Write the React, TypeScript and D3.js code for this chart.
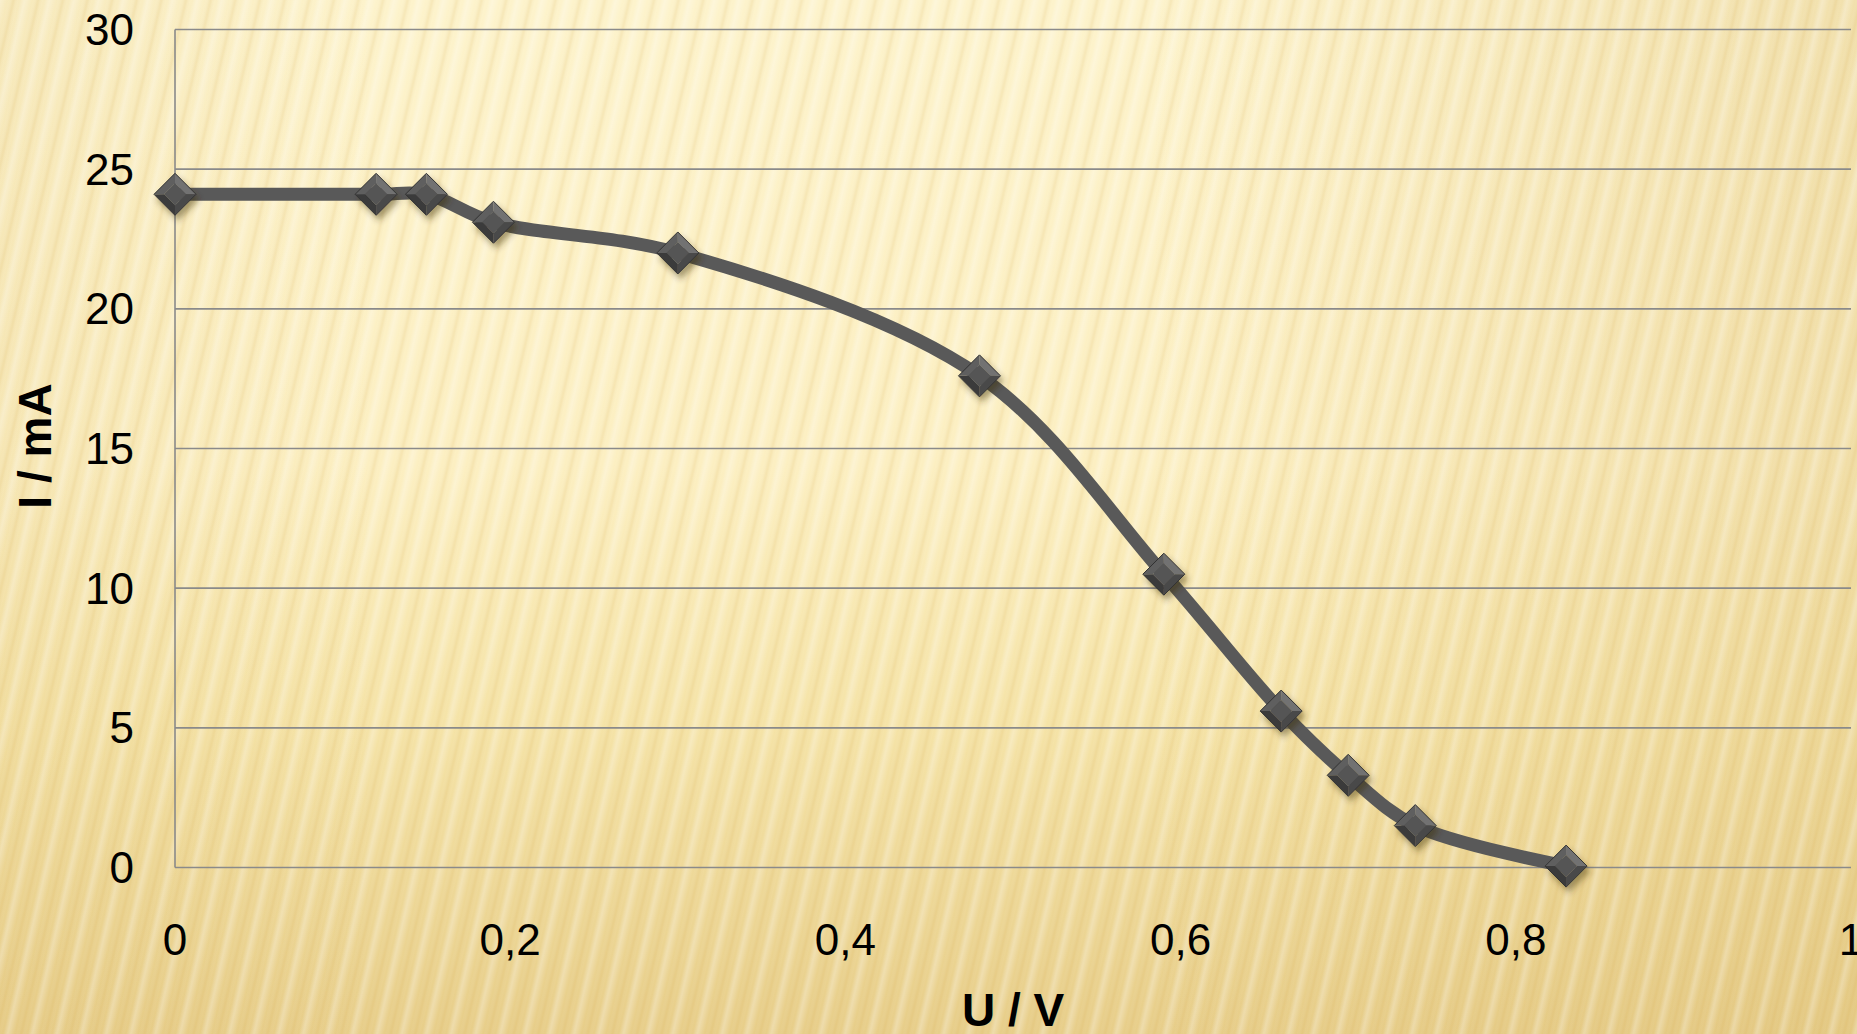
import * as React from 'react';
import * as d3 from 'd3';

const voltage = [0, 0.12, 0.15, 0.19, 0.30, 0.48, 0.59, 0.66, 0.70, 0.74, 0.83];
const current = [24.1, 24.1, 24.1, 23.1, 22.0, 17.6, 10.5, 5.6, 3.3, 1.5, 0.05];
const xTicks = [0, 0.2, 0.4, 0.6, 0.8, 1];
const yTicks = [0, 5, 10, 15, 20, 25, 30];
const xTitle = 'U / V';
const yTitle = 'I / mA';

const width = 1857;
const height = 1034;
const plotLeft = 175;
const plotRight = 1851;
const plotTop = 29.5;
const plotBottom = 867.5;

const xScale = d3.scaleLinear().domain([0, 1]).range([plotLeft, plotRight]);
const yScale = d3.scaleLinear().domain([0, 30]).range([plotBottom, plotTop]);

const de = d3.formatLocale({decimal: ',', thousands: '.', grouping: [3], currency: ['', '']});
const fmt = de.format('~g');

const points: [number, number][] = voltage.map((v, i) => [v, current[i]]);

const lineGen = d3.line<[number, number]>()
    .x(d => xScale(d[0]))
    .y(d => yScale(d[1]))
    .curve(d3.curveCatmullRom.alpha(0.5));

const font = '"Liberation Sans", Arial, sans-serif';

// bevelled diamond marker, like office "pyramid" markers
function Marker({x, y}: {x: number, y: number}) {
    const r = 21;
    const k = 11;
    const outer = [[0, -r], [r, 0], [0, r], [-r, 0]];
    const inner = [[0, -k], [k, 0], [0, k], [-k, 0]];
    const shades = ['#727272', '#4a4a4a', '#3a3a3a', '#5e5e5e'];
    return (
        <g transform={`translate(${x},${y})`} filter="url(#mshadow)">
            {outer.map((p, i) => {
                const q = outer[(i + 1) % 4];
                const qi = inner[(i + 1) % 4];
                const pi = inner[i];
                return <polygon key={i}
                    points={`${p[0]},${p[1]} ${q[0]},${q[1]} ${qi[0]},${qi[1]} ${pi[0]},${pi[1]}`}
                    fill={shades[i]}/>;
            })}
            <polygon points={inner.map(p => p.join(',')).join(' ')} fill="#555555"/>
            <polygon points={outer.map(p => p.join(',')).join(' ')} fill="none" stroke="#333" strokeWidth={1}/>
        </g>
    );
}

export default function App() {
    return (
        <svg width={width} height={height}
             style={{position: 'absolute', left: 0, top: 0, display: 'block'}}>
            <defs>
                <linearGradient id="bg" x1="0" y1="0" x2="0" y2="1">
                    <stop offset="0" stopColor="#fdf3cb"/>
                    <stop offset="0.45" stopColor="#fcefc1"/>
                    <stop offset="0.7" stopColor="#f5e3a6"/>
                    <stop offset="1" stopColor="#e7cd88"/>
                </linearGradient>
                <linearGradient id="shade" x1="0" y1="0" x2="1" y2="0">
                    <stop offset="0" stopColor="#dcbd72" stopOpacity="0.18"/>
                    <stop offset="0.2" stopColor="#dcbd72" stopOpacity="0"/>
                    <stop offset="0.62" stopColor="#dcbd72" stopOpacity="0"/>
                    <stop offset="1" stopColor="#dcbd72" stopOpacity="0.35"/>
                </linearGradient>
                <linearGradient id="stripeFill" x1="0" y1="0" x2="1" y2="0">
                    <stop offset="0" stopColor="#ffffff" stopOpacity="0.3"/>
                    <stop offset="0.3" stopColor="#ffffff" stopOpacity="0"/>
                    <stop offset="0.55" stopColor="#d9b462" stopOpacity="0.2"/>
                    <stop offset="0.8" stopColor="#ffffff" stopOpacity="0"/>
                    <stop offset="1" stopColor="#ffffff" stopOpacity="0.3"/>
                </linearGradient>
                <pattern id="stripes" width="24" height="24" patternUnits="userSpaceOnUse"
                         patternTransform="rotate(13)">
                    <rect x="0" y="0" width="24" height="24" fill="url(#stripeFill)"/>
                </pattern>
                <filter id="mshadow" x="-60%" y="-60%" width="220%" height="220%">
                    <feDropShadow dx="3" dy="5" stdDeviation="3" floodColor="#3a2a00" floodOpacity="0.45"/>
                </filter>
            </defs>
            <rect width={width} height={height} fill="url(#bg)"/>
            <rect width={width} height={height} fill="url(#shade)"/>
            <rect width={width} height={height} fill="url(#stripes)"/>

            {yTicks.map(t => (
                <line key={t} x1={plotLeft} x2={plotRight} y1={yScale(t)} y2={yScale(t)}
                      stroke="#8a8a8a" strokeWidth={1.6}/>
            ))}
            <line x1={plotLeft} x2={plotLeft} y1={plotTop} y2={plotBottom} stroke="#8a8a8a" strokeWidth={1.6}/>

            {yTicks.map(t => (
                <text key={t} x={134} y={yScale(t)} dy="0.35em" textAnchor="end"
                      fontFamily={font} fontSize={44} fill="#000">{fmt(t)}</text>
            ))}
            {xTicks.map(t => (
                <text key={t} x={xScale(t)} y={955} textAnchor="middle"
                      fontFamily={font} fontSize={44} fill="#000">{fmt(t)}</text>
            ))}

            <text x={xScale(0.5)} y={1026} textAnchor="middle" fontFamily={font}
                  fontSize={46} fontWeight="bold" fill="#000">{xTitle}</text>
            <text transform={`translate(51,${446}) rotate(-90)`} textAnchor="middle" fontFamily={font}
                  fontSize={46} fontWeight="bold" fill="#000">{yTitle}</text>

            <path d={lineGen(points) || ''} fill="none" stroke="#595959" strokeWidth={13}
                  strokeLinejoin="round" strokeLinecap="round"/>
            {points.map((p, i) => (
                <Marker key={i} x={xScale(p[0])} y={yScale(p[1])}/>
            ))}
        </svg>
    );
}
